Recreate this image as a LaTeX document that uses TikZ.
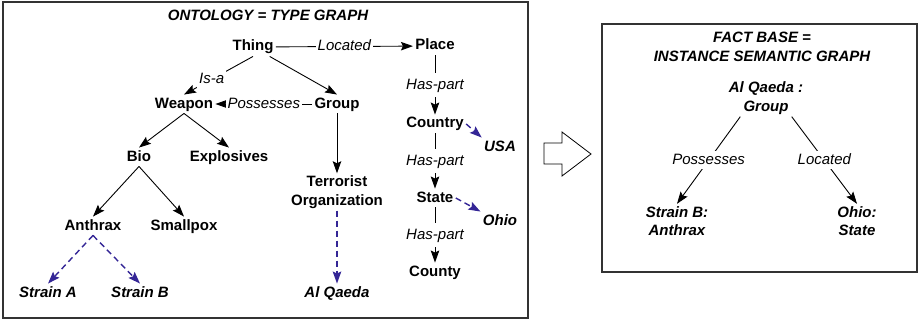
\documentclass[tikz,border=0pt]{standalone}
\usepackage{fontspec}
\setmainfont{Liberation Sans}
\usetikzlibrary{arrows.meta}

\newcommand{\diagsize}{\fontsize{15}{18.5}\selectfont}

\begin{document}
\begin{tikzpicture}[x=1pt, y=-1pt,
    %Option for nice arrows
    >={Stealth[length=12pt,width=8.5pt,inset=2pt]}, %
    line width=0.9pt,%
    type/.style={font=\diagsize\bfseries, text height=11pt, text depth=3pt, inner sep=2pt},
    inst/.style={type, font=\diagsize\bfseries\itshape},
    multi/.style={font=\diagsize\bfseries#1, align=center, inner sep=2pt},
    rel/.style={font=\diagsize\itshape, fill=white, text height=11pt, text depth=3pt, inner sep=2pt},
    frame/.style={draw=black!80, line width=1.3pt},
    isinst/.style={->, color=instblue, dash pattern=on 6pt off 4pt, line width=1.4pt},
]
    % Colors
    \definecolor{instblue}{RGB}{52,38,150}

    \useasboundingbox (0,0) rectangle (919,321);

    % Frames
    \draw[frame] (3,2) rectangle (528,318);
    \draw[frame] (602,24) rectangle (917,272);

    % Titles
    \node[multi=\itshape] (onto) at (268,15) {ONTOLOGY = TYPE GRAPH};
    \node[multi=\itshape] (fact) at (762,47) {FACT BASE =\\INSTANCE SEMANTIC GRAPH};

    % Type graph
    \node[type] (thing)      at (253,47)  {Thing};
    \node[type] (place)      at (435,46)  {Place};
    \node[type] (weapon)     at (184,104) {Weapon};
    \node[type] (group)      at (337,104) {Group};
    \node[type] (bio)        at (139,157) {Bio};
    \node[type] (explosives) at (229,157) {Explosives};
    \node[type] (anthrax)    at (93,226)  {Anthrax};
    \node[type] (smallpox)   at (184,226) {Smallpox};
    \node[multi] (terror)    at (337,192) {Terrorist\\Organization};
    \node[type] (country)    at (435,124) {Country};
    \node[type] (state)      at (435,198) {State};
    \node[type] (county)     at (435,272) {County};

    % Instances
    \node[inst] (strainA) at (48,293)  {Strain A};
    \node[inst] (strainB) at (140,293) {Strain B};
    \node[inst] (alqaeda) at (337,293) {Al Qaeda};
    \node[inst] (usa)     at (500,147) {USA};
    \node[inst] (ohio)    at (500,221) {Ohio};

    % Relations
    \draw[->] (thing) -- node[rel]{Located} (place);
    \draw[->] (thing.south) -- node[rel, pos=0.6]{Is-a} (weapon.north);
    \draw[->] (thing) -- (group.north);
    \draw[->] (group) -- node[rel]{Possesses} (weapon);
    \draw[->] (weapon.south) -- (bio.north);
    \draw[->] (weapon.south) -- (explosives.north);
    \draw[->] (bio.south) -- (anthrax.north);
    \draw[->] (bio.south) -- (smallpox.north);
    \draw[->] (group) -- (terror);
    \draw[->] (place) -- node[rel, inner ysep=5pt]{Has-part} (country);
    \draw[->] (country) -- node[rel, inner ysep=5pt]{Has-part} (state);
    \draw[->] (state) -- node[rel, inner ysep=5pt]{Has-part} (county);

    %Instance-of links
    \draw[isinst] (anthrax.south) -- (strainA.north);
    \draw[isinst] (anthrax.south) -- (strainB.north);
    \draw[isinst] (terror) -- (alqaeda);
    \draw[isinst] (country.east) -- (usa.north west);
    \draw[isinst] (state.east) -- (ohio.north west);

    % Transformation arrow
    \draw[line width=0.8pt] (544,143) -- (562,143) -- (562,132) -- (591,154)
        -- (562,176) -- (562,164) -- (544,164) -- cycle;

    % Fact base
    \node[multi=\itshape] (alq)  at (766,98)  {Al Qaeda :\\Group};
    \node[multi=\itshape] (sb)   at (677,221) {Strain B:\\Anthrax};
    \node[multi=\itshape] (oh)   at (857,221) {Ohio:\\State};

    \draw[->] (alq.-144) -- node[rel]{Possesses} (sb.north);
    \draw[->] (alq.-36) -- node[rel]{Located} (oh.north);
\end{tikzpicture}
\end{document}
